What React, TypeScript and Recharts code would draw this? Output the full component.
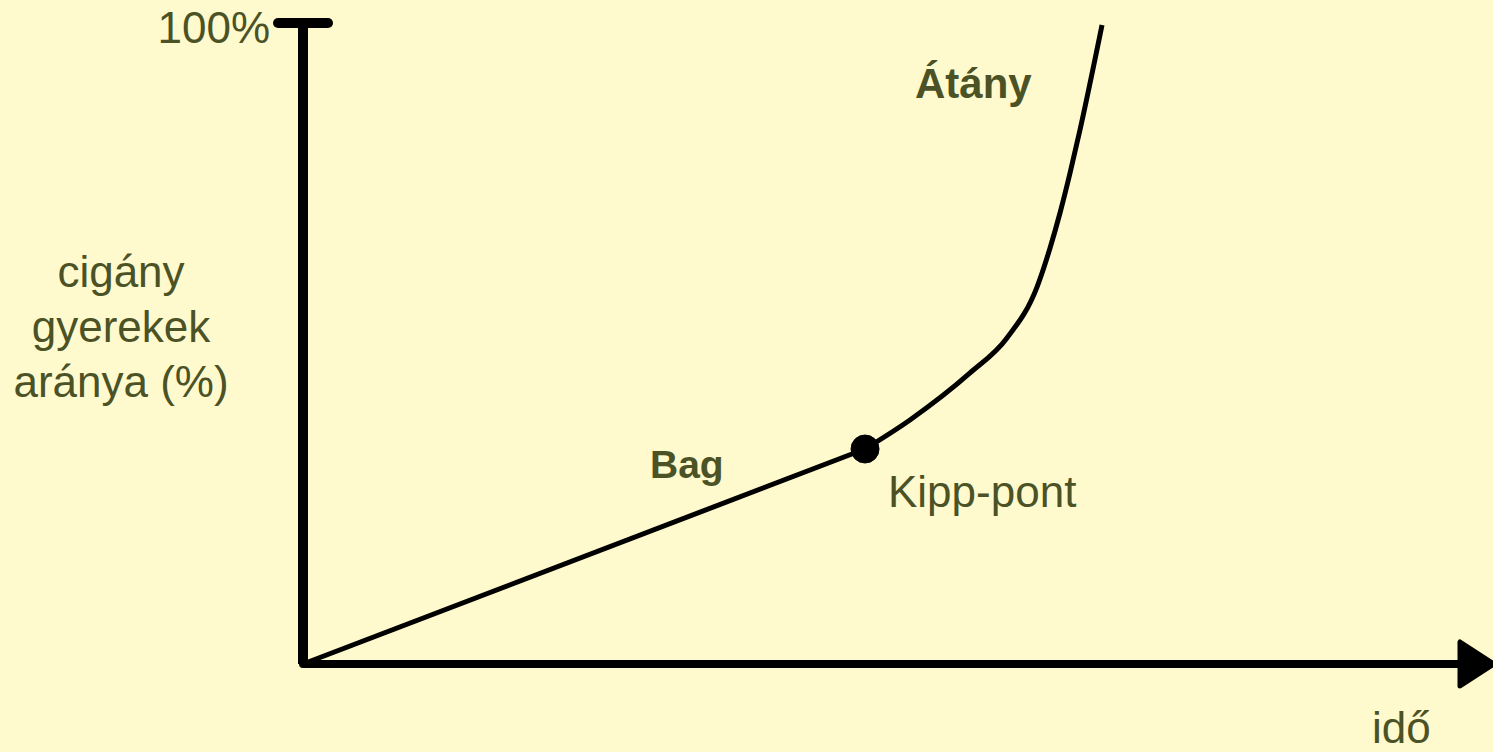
import React from 'react';
import { ComposedChart, Line, XAxis, YAxis, ReferenceDot } from 'recharts';

// time (x, 0..100) and share of gypsy children (%)
// straight "Bag" phase up to the tipping point
const bagTime = [0, 48.66];
const bagShare = [0, 33.54];
// accelerating "Átány" phase after the tipping point
const atanyTime = [48.66, 52.55, 57.75, 60.95, 63.55, 64.68, 65.54, 66.41, 67.27, 69.18];
const atanyShare = [33.54, 38.07, 45.4, 50.86, 58.81, 64.9, 70.36, 76.6, 83.31, 99.69];

const tippingPoint = { time: 48.66, share: 33.54 };
const yTicks = [100];
const yLabelLines = ['cigány', 'gyerekek', 'aránya (%)'];
const xLabel = 'idő';
const villageBag = 'Bag';
const villageAtany = 'Átány';
const tippingLabel = 'Kipp-pont';

const allTimes = Array.from(new Set([...bagTime, ...atanyTime])).sort((a, b) => a - b);
const data = allTimes.map((t) => {
  const bi = bagTime.indexOf(t);
  const ai = atanyTime.indexOf(t);
  return {
    time: t,
    bag: bi >= 0 ? bagShare[bi] : null,
    atany: ai >= 0 ? atanyShare[ai] : null,
  };
});

const FONT = '"Liberation Sans", Arial, sans-serif';
const TEXT = '#4B5225';
const BG = '#FFFACD';

const YTick = (props: any) => {
  const { x, y, payload } = props;
  return (
    <g>
      <line x1={x - 25} x2={x + 25} y1={y} y2={y} stroke="#000" strokeWidth={10} strokeLinecap="round" />
      <text x={x - 33} y={y + 20} textAnchor="end" fontFamily={FONT} fontSize={44} fill={TEXT}>
        {payload.value}%
      </text>
    </g>
  );
};

const Arrow = (props: any) => {
  const { cx, cy } = props;
  return (
    <polygon
      points={`${cx + 2},${cy - 22} ${cx + 2},${cy + 22} ${cx + 36},${cy}`}
      fill="#000"
      stroke="#000"
      strokeWidth={5}
      strokeLinejoin="round"
    />
  );
};

export default function App() {
  return (
    <div style={{ position: 'absolute', left: 0, top: 0, width: 1493, height: 752, background: BG, overflow: 'hidden' }}>
      <ComposedChart width={1493} height={752} data={data} margin={{ top: 23, right: 35, bottom: 0, left: 0 }}>
        <XAxis
          dataKey="time"
          type="number"
          domain={[0, 100]}
          tick={false}
          tickLine={false}
          height={88}
          axisLine={{ stroke: '#000', strokeWidth: 8, strokeLinecap: 'round' }}
        />
        <YAxis
          type="number"
          domain={[0, 100]}
          ticks={yTicks}
          width={303}
          tickSize={0}
          tickMargin={0}
          tickLine={false}
          tick={<YTick />}
          axisLine={{ stroke: '#000', strokeWidth: 10 }}
        />
        <Line
          type="linear"
          dataKey="bag"
          stroke="#000"
          strokeWidth={5}
          dot={false}
          activeDot={false}
          isAnimationActive={false}
        />
        <Line
          type="monotoneX"
          dataKey="atany"
          stroke="#000"
          strokeWidth={5}
          dot={false}
          activeDot={false}
          isAnimationActive={false}
        />
        <ReferenceDot x={tippingPoint.time} y={tippingPoint.share} r={14} fill="#000" stroke="#000" ifOverflow="visible" />
        <ReferenceDot x={100} y={0} shape={<Arrow />} ifOverflow="visible" />
        <text fontFamily={FONT} fontSize={44} fill={TEXT} textAnchor="middle">
          {yLabelLines.map((l, i) => (
            <tspan key={l} x={121} y={287 + i * 55}>
              {l}
            </tspan>
          ))}
        </text>
        <text x={1372} y={743} fontFamily={FONT} fontSize={44} fill={TEXT}>
          {xLabel}
        </text>
        <text x={650} y={478} fontFamily={FONT} fontSize={39} fontWeight="bold" fill={TEXT}>
          {villageBag}
        </text>
        <text x={915} y={98} fontFamily={FONT} fontSize={42} fontWeight="bold" fill={TEXT}>
          {villageAtany}
        </text>
        <text x={888} y={507} fontFamily={FONT} fontSize={44} fill={TEXT}>
          {tippingLabel}
        </text>
      </ComposedChart>
    </div>
  );
}
